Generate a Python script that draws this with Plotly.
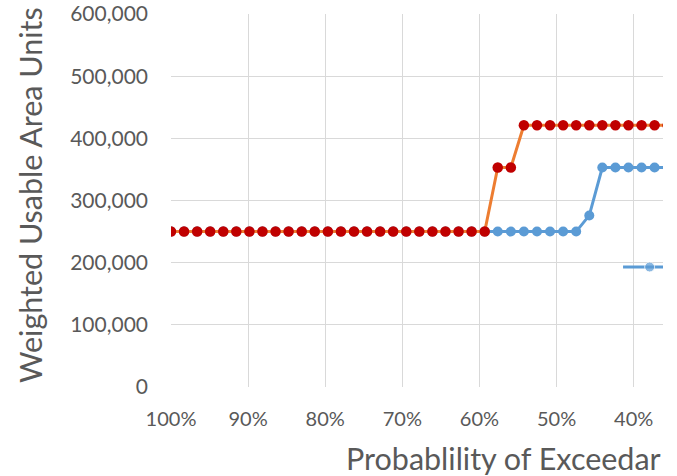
import plotly.graph_objects as go

# Probability of exceedance (percent) for the two main series
exceedance = [100.00, 98.31, 96.61, 94.92, 93.22, 91.53, 89.83, 88.14, 86.44, 84.75,
              83.05, 81.36, 79.66, 77.97, 76.27, 74.58, 72.88, 71.19, 69.49, 67.80,
              66.10, 64.41, 62.71, 61.02, 59.32, 57.63, 55.93, 54.24, 52.54, 50.85,
              49.15, 47.46, 45.76, 44.07, 42.37, 40.68, 38.98, 37.29, 35.59]

series_blue = [250000] * 32 + [276000] + [353000] * 6
series_orange = [250000] * 25 + [353000, 353000] + [421000] * 12

exceedance_3 = [41.38, 37.93, 34.48]
series_3 = [193000, 193000, 193000]

x_ticks = [100, 90, 80, 70, 60, 50, 40]
x_tick_labels = ["100%", "90%", "80%", "70%", "60%", "50%", "40%"]
y_ticks = [0, 100000, 200000, 300000, 400000, 500000, 600000]

FONT = "Lato"
GREY = "#595959"

fig = go.Figure()
fig.add_trace(go.Scatter(
    x=exceedance, y=series_blue, mode="lines+markers",
    line=dict(color="#5B9BD5", width=3),
    marker=dict(color="#5B9BD5", size=10),
))
fig.add_trace(go.Scatter(
    x=exceedance_3, y=series_3, mode="lines+markers",
    line=dict(color="#5B9BD5", width=3),
    marker=dict(color="#5B9BD5", size=[0, 10, 10]),
))
fig.add_trace(go.Scatter(
    x=exceedance, y=series_orange, mode="lines+markers",
    line=dict(color="#ED7D31", width=3),
    marker=dict(color="#C00000", size=10.5),
))

fig.update_layout(
    width=677, height=476,
    margin=dict(l=171, r=14, t=14, b=89),
    paper_bgcolor="white", plot_bgcolor="white",
    showlegend=False,
    font=dict(family=FONT, color=GREY),
    xaxis=dict(
        range=[100, 36.2], tickvals=x_ticks, ticktext=x_tick_labels,
        showgrid=True, gridcolor="#D9D9D9", gridwidth=1.3,
        zeroline=False, showline=False, ticks="", automargin=False,
        tickfont=dict(size=20, color=GREY, family=FONT),
        ticklabelstandoff=18,
    ),
    yaxis=dict(
        range=[0, 600000], tickvals=y_ticks, tickformat=",",
        showgrid=True, gridcolor="#D9D9D9", gridwidth=1.3,
        zeroline=False, showline=False, ticks="", automargin=False,
        tickfont=dict(size=21, color=GREY, family=FONT),
        ticklabelstandoff=22,
    ),
    annotations=[
        dict(text="Weighted Usable Area Units", xref="paper", yref="paper",
             x=-0.2866, y=0.515, xanchor="center", yanchor="middle",
             textangle=-90, showarrow=False,
             font=dict(size=30.5, color=GREY, family=FONT)),
        dict(text="Probablility of Exceedar", xref="paper", yref="paper",
             x=1.0, y=-0.19, xanchor="right", yanchor="middle",
             showarrow=False,
             font=dict(size=30.5, color=GREY, family=FONT)),
    ],
)

fig.write_html("out.html", config={"displayModeBar": False},
               post_script="document.body.style.margin='0';")
